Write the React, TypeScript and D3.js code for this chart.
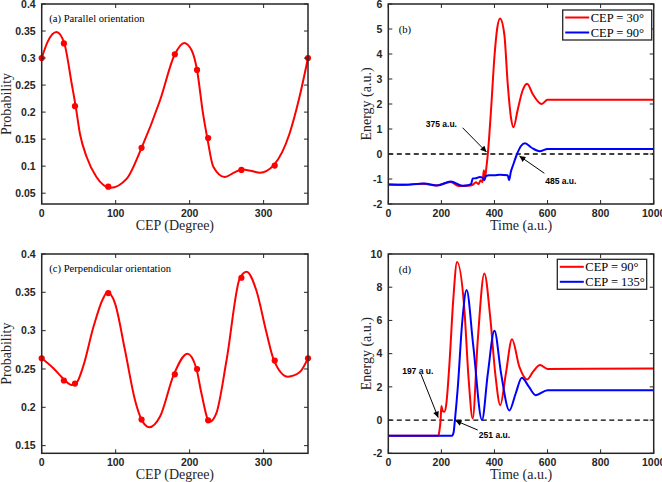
import React from 'react';
import * as d3 from 'd3';

// ---------- data ----------
// computed points (markers)
const cepDeg = [0, 30, 45, 90, 135, 180, 210, 225, 270, 315, 360];
const probParallel = [0.300, 0.327, 0.211, 0.062, 0.134, 0.307, 0.278, 0.152, 0.093, 0.101, 0.300];
const probPerp = [0.264, 0.235, 0.231, 0.349, 0.184, 0.243, 0.250, 0.183, 0.369, 0.261, 0.264];

// fitted curves
const parallelCurveDeg = [0, 8, 20, 30.6, 40.5, 45.9, 51.7, 60.8, 74, 93, 115, 135, 160, 180, 192.6, 202.5, 210, 218, 224, 232, 247.5, 260, 271, 284, 295, 313.7, 335, 348, 360];
const parallelCurveP = [0.300, 0.330, 0.348, 0.327, 0.253, 0.211, 0.160, 0.117, 0.080, 0.060, 0.077, 0.134, 0.222, 0.307, 0.328, 0.315, 0.278, 0.198, 0.151, 0.099, 0.080, 0.088, 0.094, 0.091, 0.088, 0.102, 0.160, 0.225, 0.300];
const perpCurveDeg = [0, 15.8, 30.6, 40.5, 46.4, 56, 70, 83, 88.7, 99, 112.5, 126, 135, 145.4, 160, 178.7, 197, 209, 216, 227, 236, 250, 268, 277, 290, 304, 313.7, 333, 349, 360];
const perpCurveP = [0.264, 0.251, 0.236, 0.229, 0.231, 0.253, 0.305, 0.342, 0.350, 0.336, 0.275, 0.210, 0.184, 0.174, 0.188, 0.243, 0.270, 0.251, 0.218, 0.181, 0.192, 0.262, 0.369, 0.377, 0.353, 0.297, 0.262, 0.240, 0.246, 0.264];

const bRedT = [0, 60, 130, 180, 235, 265, 300, 320, 330, 340, 348, 355, 360, 364, 370, 375, 387, 400, 410, 421, 437, 450, 462, 472, 487, 506, 523, 544, 578, 600, 1000];
const bRedE = [-1.22, -1.23, -1.19, -1.26, -1.12, -1.28, -1.27, -1.22, -1.13, -1.2, -1.05, -1.12, -0.65, -0.95, -0.5, 0, 1.75, 3.9, 5.0, 5.42, 4.8, 2.8, 1.47, 1.07, 1.74, 2.54, 2.81, 2.4, 2.0, 2.17, 2.17];

const bBlueT = [0, 60, 135, 185, 235, 280, 300, 312, 318, 330, 345, 355, 362, 368, 380, 400, 420, 450, 455, 462, 470, 485, 500, 515, 540, 570, 600, 1000];
const bBlueE = [-1.22, -1.23, -1.18, -1.26, -1.1, -1.27, -1.25, -1.2, -0.98, -0.97, -0.92, -0.95, -1.05, -0.88, -0.85, -0.85, -0.83, -0.85, -1.05, -0.7, -0.45, 0, 0.32, 0.43, 0.25, 0.11, 0.2, 0.2];

const dRedT = [0, 188, 193, 197, 200, 205, 211, 218, 230, 245, 259, 286, 303, 318, 337, 362, 384, 403, 422, 443, 466, 494, 523, 545, 572, 600, 1000];
const dRedE = [-0.95, -0.95, -0.6, 0, 0.85, 0.55, 0.5, 0.9, 3.3, 7.3, 9.52, 6.8, 2.4, 0.1, 4.8, 8.83, 6.2, 2.8, 0.9, 2.8, 4.86, 3.2, 2.45, 2.9, 3.31, 3.08, 3.1];

const dBlueT = [0, 240, 246, 251, 262, 278, 295, 320, 353, 375, 400, 425, 456, 480, 503, 530, 555, 600, 1000];
const dBlueE = [-0.95, -0.95, -0.75, 0, 2.0, 5.8, 7.83, 4.5, 0.0, 2.8, 5.38, 2.8, 0.58, 1.6, 2.55, 2.0, 1.5, 1.8, 1.8];

const degTicks = [0, 100, 200, 300];
const probTicksA = [0.05, 0.1, 0.15, 0.2, 0.25, 0.3, 0.35, 0.4];
const probTicksC = [0.15, 0.2, 0.25, 0.3, 0.35, 0.4];
const timeTicks = [0, 200, 400, 600, 800, 1000];
const energyTicksB = [-2, -1, 0, 1, 2, 3, 4, 5, 6];
const energyTicksD = [-2, 0, 2, 4, 6, 8, 10];

const legendB = ['CEP = 30°', 'CEP = 90°'];
const legendD = ['CEP = 90°', 'CEP = 135°'];

// ---------- style ----------
const SERIF = "'Liberation Serif','Times New Roman',serif";
const SANS = "'Liberation Sans',Arial,sans-serif";
const AX = '#262626';
const RED = '#ff0000';
const BLUE = '#0000ff';

type Series = { t: number[]; v: number[]; color: string; mt?: number[]; mv?: number[] };
type Ann = { text: string; tx: number; ty: number; x1: number; y1: number; x2: number; y2: number };

type PanelProps = {
  id: string;
  left: number; right: number; top: number; bottom: number;
  xDomain: [number, number]; yDomain: [number, number];
  xTicks: number[]; yTicks: number[];
  xLabel: string; yLabel: string; yLabelX: number;
  tag: string; tagX: number; tagY: number; tagSize: number;
  series: Series[]; curve: any;
  zeroLine?: boolean; anns?: Ann[]; legend?: string[]; legendBox?: { x: number; y: number; w: number; h: number };
};

function Panel(p: PanelProps) {
  const x = d3.scaleLinear().domain(p.xDomain).range([p.left, p.right]);
  const y = d3.scaleLinear().domain(p.yDomain).range([p.bottom, p.top]);
  const tl = 4;
  const cx = (p.left + p.right) / 2;
  const cy = (p.top + p.bottom) / 2;
  return (
    <g>
      <defs>
        <clipPath id={'clip' + p.id}>
          <rect x={p.left} y={p.top} width={p.right - p.left} height={p.bottom - p.top} />
        </clipPath>
      </defs>
      <rect x={p.left} y={p.top} width={p.right - p.left} height={p.bottom - p.top} fill="#fff" />
      {p.zeroLine && (
        <line x1={p.left} x2={p.right} y1={y(0)} y2={y(0)} stroke="#000" strokeWidth={1.3} strokeDasharray="5,3.5" />
      )}
      <g clipPath={`url(#clip${p.id})`}>
        {p.series.map((s, i) => {
          const line = d3.line<number>().x((_, j) => x(s.t[j])).y((d) => y(d)).curve(p.curve);
          return <path key={i} d={line(s.v) || ''} fill="none" stroke={s.color} strokeWidth={2} strokeLinejoin="round" />;
        })}
      </g>
      {p.series.map((s, i) => s.mt && s.mv ? s.mv.map((v, j) => (
        <circle key={i + '-' + j} cx={x(s.mt![j])} cy={y(v)} r={3.1} fill={s.color} />
      )) : null)}
      {/* ticks */}
      {p.xTicks.map((t) => (
        <g key={'xt' + t}>
          <line x1={x(t)} x2={x(t)} y1={p.bottom} y2={p.bottom - tl} stroke={AX} strokeWidth={1} />
          <line x1={x(t)} x2={x(t)} y1={p.top} y2={p.top + tl} stroke={AX} strokeWidth={1} />
          <text x={x(t)} y={p.bottom + 13} textAnchor="middle" fontFamily={SANS} fontWeight="bold" fontSize={10.5} fill={AX}>{String(t)}</text>
        </g>
      ))}
      {p.yTicks.map((t) => (
        <g key={'yt' + t}>
          <line x1={p.left} x2={p.left + tl} y1={y(t)} y2={y(t)} stroke={AX} strokeWidth={1} />
          <line x1={p.right} x2={p.right - tl} y1={y(t)} y2={y(t)} stroke={AX} strokeWidth={1} />
          <text x={p.left - 6} y={y(t)} dy="0.36em" textAnchor="end" fontFamily={SANS} fontWeight="bold" fontSize={10.5} fill={AX}>{String(t)}</text>
        </g>
      ))}
      <rect x={p.left} y={p.top} width={p.right - p.left} height={p.bottom - p.top} fill="none" stroke={AX} strokeWidth={1.5} />
      {/* annotations */}
      {p.anns && p.anns.map((a, i) => (
        <g key={'a' + i}>
          <line x1={x(a.x1)} y1={y(a.y1)} x2={x(a.x2)} y2={y(a.y2)} stroke="#000" strokeWidth={1} markerEnd="url(#arrowHead)" />
          <text x={x(a.tx)} y={y(a.ty)} textAnchor="middle" fontFamily={SANS} fontWeight="bold" fontSize={8.5} fill="#000">{a.text}</text>
        </g>
      ))}
      <text x={x(p.tagX)} y={y(p.tagY)} fontFamily={SERIF} fontSize={p.tagSize} fill="#000">{p.tag}</text>
      {/* legend */}
      {p.legend && p.legendBox && (
        <g>
          <rect x={p.legendBox.x} y={p.legendBox.y} width={p.legendBox.w} height={p.legendBox.h} fill="#fff" stroke={AX} strokeWidth={1.3} />
          {p.legend.map((lab, i) => {
            const ly = p.legendBox!.y + p.legendBox!.h * (0.25 + 0.5 * i);
            return (
              <g key={'l' + i}>
                <line x1={p.legendBox!.x + 2.5} x2={p.legendBox!.x + 26.5} y1={ly} y2={ly} stroke={p.series[i].color} strokeWidth={2} />
                <text x={p.legendBox!.x + 28} y={ly} dy="0.35em" fontFamily={SERIF} fontSize={12.5} fill="#000">{lab}</text>
              </g>
            );
          })}
        </g>
      )}
      {/* axis labels */}
      <text x={cx} y={p.bottom + 26} textAnchor="middle" fontFamily={SERIF} fontSize={14} fill={AX}>{p.xLabel}</text>
      <text transform={`translate(${p.yLabelX},${cy}) rotate(-90)`} textAnchor="middle" fontFamily={SERIF} fontSize={14} fill={AX}>{p.yLabel}</text>
    </g>
  );
}

export default function App() {
  return (
    <svg width={662} height={482} style={{ position: 'absolute', left: 0, top: 0, background: '#fff' }}>
      <defs>
        <marker id="arrowHead" viewBox="0 0 10 10" refX="10" refY="5" markerWidth="7" markerHeight="6" markerUnits="userSpaceOnUse" orient="auto">
          <path d="M0,0 L10,5 L0,10 z" fill="#000" />
        </marker>
      </defs>
      <Panel
        id="a"
        left={41.7} right={308} top={4} bottom={204}
        xDomain={[0, 360]} yDomain={[0.03, 0.4]}
        xTicks={degTicks} yTicks={probTicksA}
        xLabel="CEP (Degree)" yLabel="Probability" yLabelX={10.5}
        tag="(a) Parallel orientation" tagX={10.3} tagY={0.366} tagSize={10.6}
        series={[{ t: parallelCurveDeg, v: parallelCurveP, color: RED, mt: cepDeg, mv: probParallel }]}
        curve={d3.curveMonotoneX}
      />
      <Panel
        id="c"
        left={41.7} right={308} top={254} bottom={453.3}
        xDomain={[0, 360]} yDomain={[0.14, 0.4]}
        xTicks={degTicks} yTicks={probTicksC}
        xLabel="CEP (Degree)" yLabel="Probability" yLabelX={10.5}
        tag="(c) Perpendicular orientation" tagX={10.3} tagY={0.377} tagSize={10.6}
        series={[{ t: perpCurveDeg, v: perpCurveP, color: RED, mt: cepDeg, mv: probPerp }]}
        curve={d3.curveMonotoneX}
      />
      <Panel
        id="b"
        left={388.3} right={653.7} top={4} bottom={204}
        xDomain={[0, 1000]} yDomain={[-2, 6]}
        xTicks={timeTicks} yTicks={energyTicksB}
        xLabel="Time (a.u.)" yLabel="Energy (a.u.)" yLabelX={371}
        tag="(b)" tagX={39} tagY={4.86} tagSize={10.6}
        series={[{ t: bRedT, v: bRedE, color: RED }, { t: bBlueT, v: bBlueE, color: BLUE }]} curve={d3.curveMonotoneX}
        zeroLine
        anns={[
          { text: '375 a.u.', tx: 200, ty: 1.1, x1: 280, y1: 1.05, x2: 370, y2: 0.08 },
          { text: '485 a.u.', tx: 650, ty: -1.2, x1: 588, y1: -0.77, x2: 494, y2: -0.08 },
        ]}
        legend={legendB} legendBox={{ x: 562.7, y: 10, w: 89, h: 30 }}
      />
      <Panel
        id="d"
        left={388.3} right={653.7} top={254} bottom={453.3}
        xDomain={[0, 1000]} yDomain={[-2, 10]}
        xTicks={timeTicks} yTicks={energyTicksD}
        xLabel="Time (a.u.)" yLabel="Energy (a.u.)" yLabelX={371}
        tag="(d)" tagX={39} tagY={8.83} tagSize={10.6}
        series={[{ t: dRedT, v: dRedE, color: RED }, { t: dBlueT, v: dBlueE, color: BLUE }]} curve={d3.curveMonotoneX}
        zeroLine
        anns={[
          { text: '197 a u.', tx: 111, ty: 2.8, x1: 123, y1: 2.77, x2: 188, y2: 0.15 },
          { text: '251 a.u.', tx: 400, ty: -1.05, x1: 337, y1: -0.6, x2: 253, y2: -0.03 },
        ]}
        legend={legendD} legendBox={{ x: 557.3, y: 259.3, w: 89.4, h: 30 }}
      />
    </svg>
  );
}
